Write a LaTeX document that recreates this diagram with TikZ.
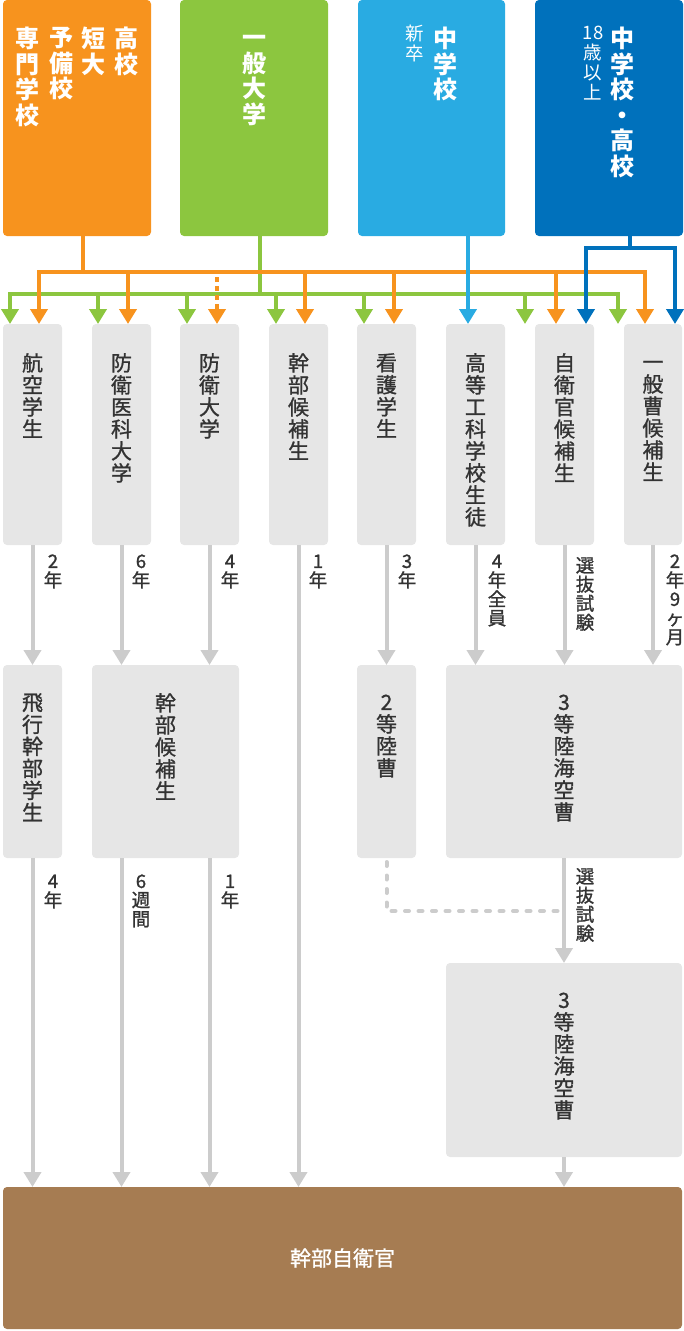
\documentclass[tikz,border=0pt]{standalone}
\usepackage{fontspec}
\setmainfont{Noto Sans CJK JP}
\newfontfamily\jpmed[FakeBold=1.0]{Noto Sans CJK JP}
\newfontfamily\jplab[FakeBold=1.3]{Noto Sans CJK JP}
\usetikzlibrary{arrows.meta}
\definecolor{cOr}{HTML}{F7931E}
\definecolor{cGr}{HTML}{8CC63F}
\definecolor{cLb}{HTML}{29ABE2}
\definecolor{cDb}{HTML}{0071BC}
\definecolor{cGy}{HTML}{E6E6E6}
\definecolor{cLn}{HTML}{CCCCCC}
\definecolor{cBr}{HTML}{A67C52}
\definecolor{cTx}{HTML}{333333}
\newcommand\kzph{\vphantom{国}}
\begin{document}
\begin{tikzpicture}[x=1pt,y=-1pt,
  box/.style={rectangle, rounded corners=4pt, inner sep=0pt, outer sep=0pt, anchor=north west},
  gbox/.style={box, fill=cGy},
  btxt/.style={font=\jpmed\fontsize{21}{22}\selectfont, text=cTx, align=center, inner sep=0pt, anchor=north},
  htxt/.style={font=\bfseries\fontsize{24}{25.5}\selectfont, text=white, align=center, inner sep=0pt, anchor=north},
  stxt/.style={font=\fontsize{18.5}{20}\selectfont, text=white, align=center, inner sep=0pt, anchor=north},
  lab/.style={font=\jplab\fontsize{18.5}{19}\selectfont, text=cTx, align=center, inner sep=0pt, anchor=north},
  tipa/.style={-{Triangle[width=17pt,length=15pt]}},
  cl/.style={line width=4pt},
  bus/.style={line width=4pt, line cap=rect},
  gl/.style={line width=4pt, cLn},
  gdash/.style={line width=4pt, cLn, line cap=round, dash pattern=on 4pt off 9.5pt}
]
\useasboundingbox (0,0) rectangle (684,1331);

% ---- top source boxes
\node[box, fill=cOr, minimum width=148pt, minimum height=236pt] (sA) at (3,0) {};
\node[box, fill=cGr, minimum width=148pt, minimum height=236pt] (sB) at (180,0) {};
\node[box, fill=cLb, minimum width=147pt, minimum height=236pt] (sC) at (358,0) {};
\node[box, fill=cDb, minimum width=148pt, minimum height=236pt] (sD) at (535,0) {};

\node[htxt] (tA1) at (126,27) {\kzph 高\\校};
\node[htxt] (tA2) at (93,27) {\kzph 短\\大};
\node[htxt] (tA3) at (61,27) {\kzph 予\\備\\校};
\node[htxt] (tA4) at (28,27) {\kzph 専\\門\\学\\校};
\node[htxt] (tB) at (254,27) {\kzph 一\\般\\大\\学};
\node[htxt] (tC) at (445,27) {\kzph 中\\学\\校};
\node[stxt] (tC2) at (415,25) {\kzph 新\\卒};
\node[htxt] (tD) at (622,27) {\kzph 中\\学\\校\\・\\高\\校};
\node[stxt] (tD2) at (593,25) {\kzph 18\\歳\\以\\上};

% ---- second row
\node[gbox, minimum width=59pt, minimum height=221pt] (b1) at (3,324) {};
\node[gbox, minimum width=59pt, minimum height=221pt] (b2) at (92,324) {};
\node[gbox, minimum width=59pt, minimum height=221pt] (b3) at (180,324) {};
\node[gbox, minimum width=59pt, minimum height=221pt] (b4) at (269,324) {};
\node[gbox, minimum width=59pt, minimum height=221pt] (b5) at (357,324) {};
\node[gbox, minimum width=59pt, minimum height=221pt] (b6) at (446,324) {};
\node[gbox, minimum width=59pt, minimum height=221pt] (b7) at (535,324) {};
\node[gbox, minimum width=58pt, minimum height=221pt] (b8) at (624,324) {};

\node[btxt] (b1t) at ([yshift=-29pt]b1.north) {\kzph 航\\空\\学\\生};
\node[btxt] (b2t) at ([yshift=-29pt]b2.north) {\kzph 防\\衛\\医\\科\\大\\学};
\node[btxt] (b3t) at ([yshift=-29pt]b3.north) {\kzph 防\\衛\\大\\学};
\node[btxt] (b4t) at ([yshift=-29pt]b4.north) {\kzph 幹\\部\\候\\補\\生};
\node[btxt] (b5t) at ([yshift=-29pt]b5.north) {\kzph 看\\護\\学\\生};
\node[btxt] (b6t) at ([yshift=-29pt]b6.north) {\kzph 高\\等\\工\\科\\学\\校\\生\\徒};
\node[btxt] (b7t) at ([yshift=-29pt]b7.north) {\kzph 自\\衛\\官\\候\\補\\生};
\node[btxt] (b8t) at ([yshift=-29pt]b8.north) {\kzph 一\\般\\曹\\候\\補\\生};

% ---- third row
\node[gbox, minimum width=59pt, minimum height=193pt] (c1) at (3,665) {};
\node[gbox, minimum width=147pt, minimum height=193pt] (c2) at (92,665) {};
\node[gbox, minimum width=59pt, minimum height=193pt] (c3) at (357,665) {};
\node[gbox, minimum width=236pt, minimum height=193pt] (c4) at (446,665) {};

\node[btxt] (c1t) at ([yshift=-28pt]c1.north) {\kzph 飛\\行\\幹\\部\\学\\生};
\node[btxt] (c2t) at ([yshift=-28pt]c2.north) {\kzph 幹\\部\\候\\補\\生};
\node[btxt] (c3t) at ([yshift=-28pt]c3.north) {\kzph 2\\等\\陸\\曹};
\node[btxt] (c4t) at ([yshift=-28pt]c4.north) {\kzph 3\\等\\陸\\海\\空\\曹};

% ---- fourth row
\node[gbox, minimum width=236pt, minimum height=194pt] (d4) at (446,963) {};
\node[btxt] (d4t) at ([yshift=-28pt]d4.north) {\kzph 3\\等\\陸\\海\\空\\曹};

% ---- final box
\node[box, fill=cBr, minimum width=679pt, minimum height=142pt] (br) at (3,1187) {};
\node[font=\jpmed\fontsize{21}{22}\selectfont, text=white, inner sep=0pt] (brt) at (br.center) {幹部自衛官};

% ---- bus coordinates
\coordinate (oy) at (0,272);
\coordinate (gy) at (0,294);
\coordinate (dy) at (0,248);
\coordinate (dashy) at (0,911);
\coordinate (oS) at (83,236);
\coordinate (gS) at (260,236);
\coordinate (lS) at (468,236);
\coordinate (dS) at (629.5,236);
% targets
\coordinate (g1) at (10,324);  \coordinate (g2) at (98,324);  \coordinate (g3) at (187,324);
\coordinate (g4) at (276,324); \coordinate (g5) at (364,324); \coordinate (g6) at (525,324);
\coordinate (g7) at (618,324);
\coordinate (o1) at (39,324);  \coordinate (o2) at (128,324); \coordinate (o3) at (217,324);
\coordinate (o4) at (305,324); \coordinate (o5) at (394,324); \coordinate (o6) at (556,324);
\coordinate (o7) at (645,324);
\coordinate (l1) at (468,324);
\coordinate (d1) at (586,324); \coordinate (d2) at (675,324);

% ---- green
\draw[bus, cGr] (gS) -- (gS |- gy);
\draw[bus, cGr] (g1 |- gy) -- (g7 |- gy);
\foreach \t in {g1,g2,g3,g4,g5,g6,g7}
  \draw[cl, cGr, tipa] (\t |- gy) -- (\t);

% ---- orange
\draw[bus, cOr] (oS) -- (oS |- oy);
\draw[bus, cOr] (o1 |- oy) -- (o7 |- oy);
\foreach \t in {o1,o2,o4,o5,o6,o7}
  \draw[cl, cOr, tipa] (\t |- oy) -- (\t);
\coordinate (o3s) at (217,277);
\draw[cl, cOr, tipa, dash pattern=on 5pt off 4pt] (o3s) -- (o3);

% ---- light blue
\draw[cl, cLb, tipa] (lS) -- (l1);

% ---- dark blue
\draw[bus, cDb] (dS) -- (dS |- dy);
\draw[bus, cDb] (d1 |- dy) -- (d2 |- dy);
\draw[cl, cDb, tipa] (d1 |- dy) -- (d1);
\draw[cl, cDb, tipa] (d2 |- dy) -- (d2);

% ---- gray connectors row 2 -> row 3
\draw[gl, tipa] (b1.south) -- (b1.south |- c1.north);
\draw[gl, tipa] (b2.south) -- (b2.south |- c2.north);
\draw[gl, tipa] (b3.south) -- (b3.south |- c2.north);
\draw[gl, tipa] (b4.south) -- (b4.south |- br.north);
\draw[gl, tipa] (b5.south) -- (b5.south |- c3.north);
\draw[gl, tipa] (b6.south) -- (b6.south |- c4.north);
\draw[gl, tipa] (b7.south) -- (b7.south |- c4.north);
\draw[gl, tipa] (b8.south) -- (b8.south |- c4.north);

% ---- row 3 -> final
\draw[gl, tipa] (c1.south) -- (c1.south |- br.north);
\draw[gl, tipa] (b2.south |- c2.south) -- (b2.south |- br.north);
\draw[gl, tipa] (b3.south |- c2.south) -- (b3.south |- br.north);
\draw[gdash] ([yshift=-4pt]c3.south) |- ([xshift=-6pt]c4.south |- dashy);
\draw[gl, tipa] (c4.south) -- (d4.north);
\draw[gl, tipa] (d4.south) -- (d4.south |- br.north);

% ---- labels
\node[lab] (L1) at (53,553) {\kzph 2\\年};
\node[lab] (L2) at (141,553) {\kzph 6\\年};
\node[lab] (L3) at (230,553) {\kzph 4\\年};
\node[lab] (L4) at (318,553) {\kzph 1\\年};
\node[lab] (L5) at (407,553) {\kzph 3\\年};
\node[lab] (L6) at (497,553) {\kzph 4\\年\\全\\員};
\node[lab] (L7) at (585,557) {\kzph 選\\抜\\試\\験};
\node[lab] (L8) at (675,553) {\kzph 2\\年\\9\\ヶ\\月};
\node[lab] (M1) at (53,873) {\kzph 4\\年};
\node[lab] (M2) at (141,873) {\kzph 6\\週\\間};
\node[lab] (M3) at (230,873) {\kzph 1\\年};
\node[lab] (M4) at (585,868) {\kzph 選\\抜\\試\\験};
\end{tikzpicture}
\end{document}
